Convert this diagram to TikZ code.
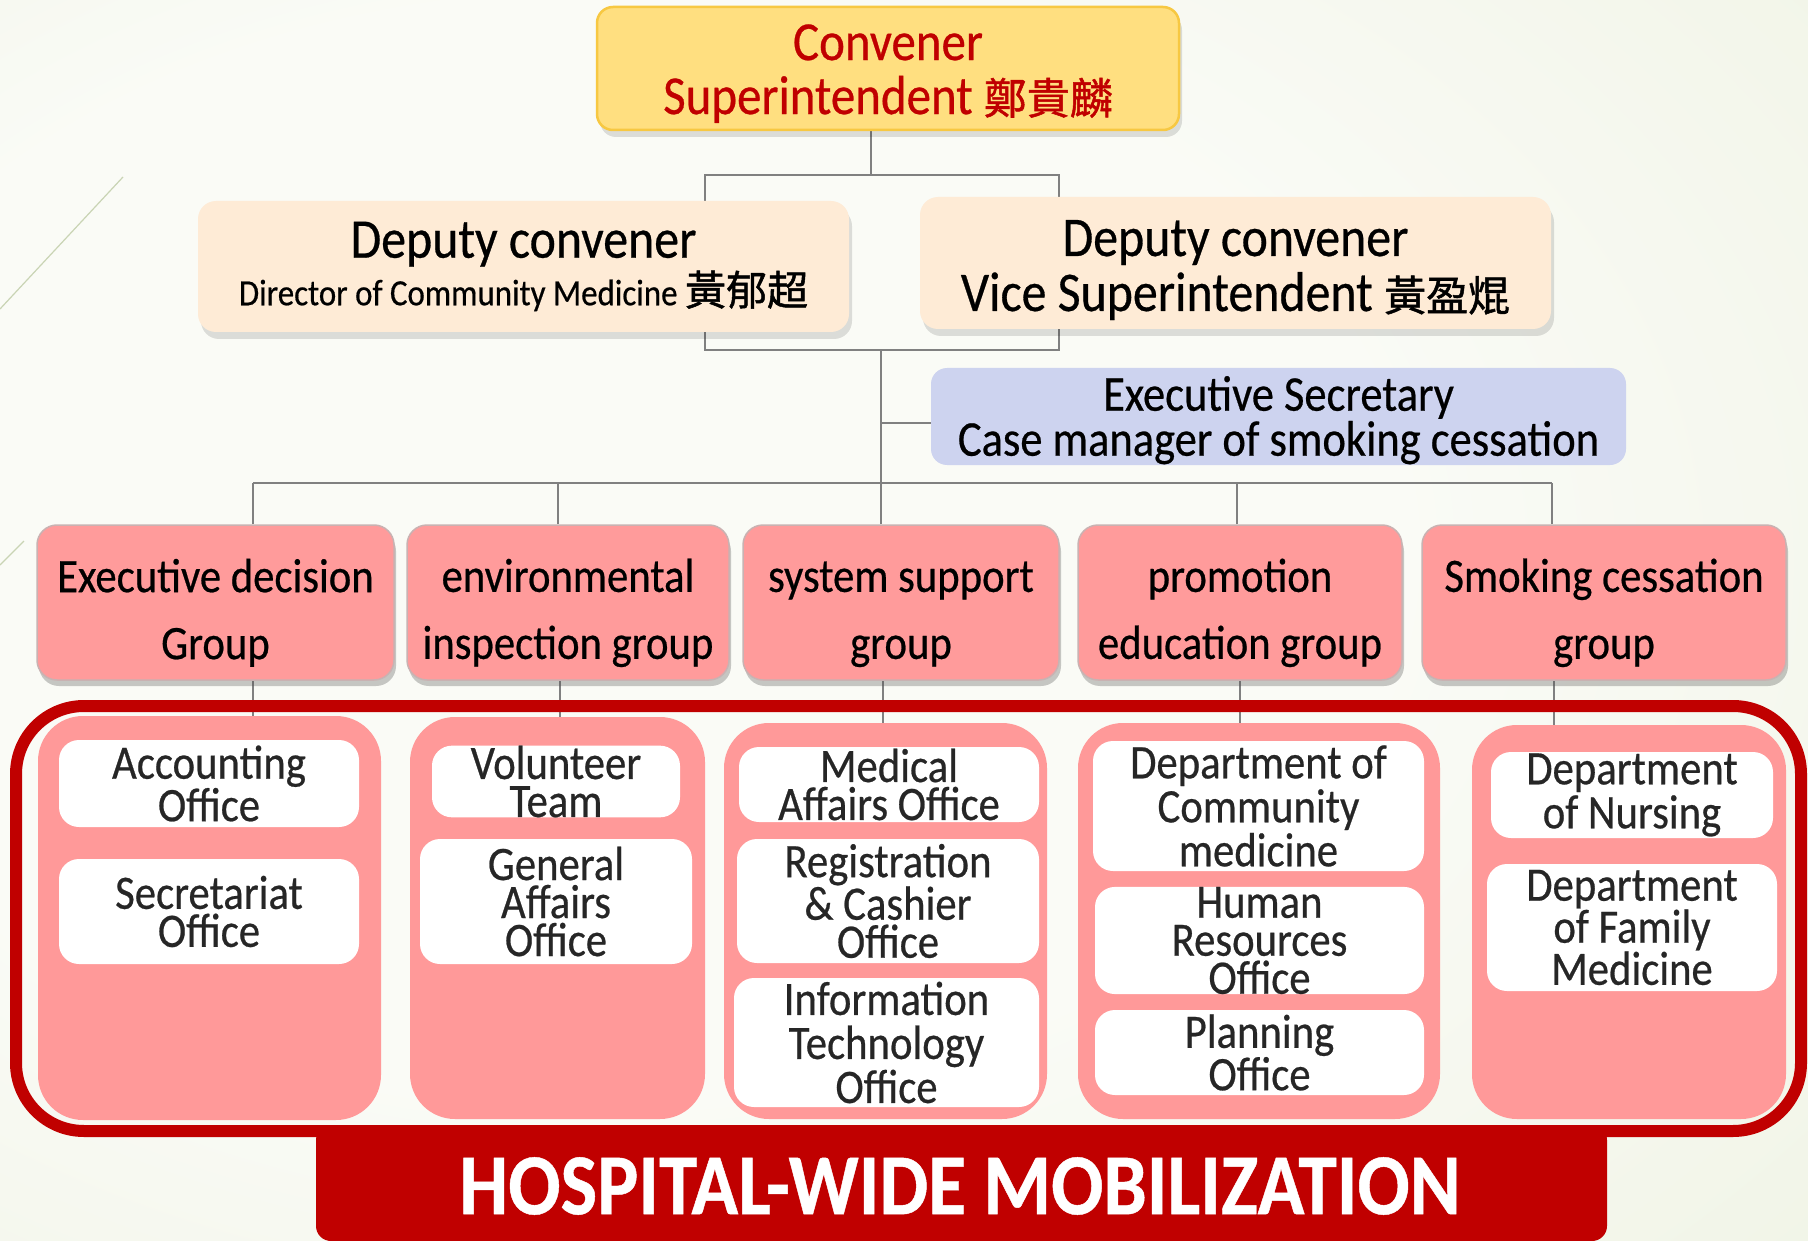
\documentclass[tikz,border=0pt]{standalone}
\usepackage{fontspec}
\setmainfont[FakeStretch=0.89, FakeBold=0.5]{Carlito}
\newfontfamily\cjk[FakeBold=1.2]{Noto Sans CJK TC}
\usetikzlibrary{shadows,calc}
\definecolor{convfill}{HTML}{FFDF80}
\definecolor{convborder}{HTML}{F7C842}
\definecolor{convred}{HTML}{C00000}
\definecolor{depfill}{HTML}{FEEBD6}
\definecolor{secfill}{HTML}{CDD3EF}
\definecolor{grpfill}{HTML}{FF9B9B}
\definecolor{grpborder}{HTML}{C9B2B2}
\definecolor{panfill}{HTML}{FF9999}
\definecolor{hred}{HTML}{C00000}
\definecolor{linegray}{HTML}{808080}
\definecolor{bgin}{HTML}{FAFBF6}
\definecolor{bgout}{HTML}{E1E9CD}
\definecolor{decoline}{HTML}{C9D4B4}
\pgfdeclareradialshading{bgshade}{\pgfpoint{-12bp}{4bp}}{color(0bp)=(bgin); color(22bp)=(bgin); color(75bp)=(bgout)}
\pgfdeclarelayer{bglayer}
\pgfdeclarelayer{connlayer}
\pgfsetlayers{bglayer,connlayer,main}
\newcommand\zhtxt[2]{{\fontsize{#1}{#1}\selectfont\cjk #2}}
\newcommand\toppad[1]{\rule{0pt}{#1}}
\tikzset{
  conn/.style={draw=linegray, line width=2.6pt},
  softshadow/.style={drop shadow={shadow xshift=3pt, shadow yshift=-7pt, opacity=0.12, fill=black}},
  convbox/.style={rectangle, rounded corners=16pt, fill=convfill, draw=convborder, line width=2.5pt,
     align=center, text=convred, inner sep=0pt, softshadow,
     font={\fontsize{55}{54}\selectfont}},
  depbox/.style={rectangle, rounded corners=18pt, fill=depfill, align=center, text=black,
     inner sep=0pt, softshadow},
  secbox/.style={rectangle, rounded corners=16pt, fill=secfill, align=center, text=black,
     inner sep=0pt, font={\fontsize{50}{45}\selectfont}},
  grpbox/.style={rectangle, rounded corners=20pt, fill=grpfill, draw=grpborder, line width=1.5pt,
     align=center, text=black, inner sep=0pt, minimum height=155pt,
     drop shadow={shadow xshift=2pt, shadow yshift=-6pt, opacity=0.3, fill=black!70},
     font={\fontsize{48}{67}\selectfont}},
  panel/.style={rectangle, rounded corners=45pt, fill=panfill, inner sep=0pt},
  wbox/.style={rectangle, rounded corners=20pt, fill=white, align=center, text=black!85,
     inner sep=0pt, font={\fontsize{48}{38}\selectfont}},
  frame/.style={rectangle, rounded corners=68pt, draw=hred, line width=12pt, inner sep=0pt},
  banner/.style={rectangle, rounded corners=15pt, fill=hred, text=white, inner sep=0pt},
  deco/.style={draw=decoline, line width=1.2pt}
}
\begin{document}
\begin{tikzpicture}[x=1pt,y=-1pt]
\useasboundingbox (0,0) rectangle (1808,1241);
\begin{pgfonlayer}{bglayer}
  \shade[shading=bgshade] (0,0) rectangle (1808,1241);
  \draw[deco] (0,309) -- (123,177);
  \draw[deco] (0,565) -- (24,541);
\end{pgfonlayer}

% frame and banner
\node[frame, minimum width=1785pt, minimum height=425pt] (outline) at (908.5,918.5) {};
\node[banner, minimum width=1291pt, minimum height=116pt] (ban) at (961.5,1183) {};
\node[text=white, font={\bfseries\fontsize{87}{87}\selectfont}] (bantext) at (960,1186) {HOSPITAL-WIDE MOBILIZATION};

% top
\node[convbox, minimum width=582pt, minimum height=123pt] (conv) at (888,68.5)
  {\toppad{46pt}Convener\\Superintendent \zhtxt{43}{鄭貴麟}};
\node[depbox, minimum width=651pt, minimum height=131pt] (dl) at (523.5,266.5)
  {{\fontsize{56}{50}\selectfont Deputy convener}\\[3pt]{\fontsize{37}{50}\selectfont Director of Community Medicine \zhtxt{41}{黃郁超}}};
\node[depbox, minimum width=631pt, minimum height=132pt, font={\fontsize{56}{55}\selectfont}] (dr) at (1235.5,263)
  {\toppad{50pt}Deputy convener\\Vice Superintendent \zhtxt{42}{黃盈焜}};
\node[secbox, minimum width=695pt, minimum height=97pt] (sec) at (1278.5,416.5)
  {\toppad{42pt}Executive Secretary\\Case manager of smoking cessation};

% groups
\node[grpbox, minimum width=357pt] (g1) at (215.5,602.5) {\toppad{54pt}Executive decision\\Group};
\node[grpbox, minimum width=322pt] (g2) at (568,602.5) {\toppad{54pt}environmental\\inspection group};
\node[grpbox, minimum width=316pt] (g3) at (901,602.5) {\toppad{54pt}system support\\group};
\node[grpbox, minimum width=324pt] (g4) at (1240,602.5) {\toppad{54pt}promotion\\education group};
\node[grpbox, minimum width=364pt] (g5) at (1604,602.5) {\toppad{54pt}Smoking cessation\\group};

% panels
\node[panel, minimum width=343pt, minimum height=404pt] (p1) at (209.5,918) {};
\node[panel, minimum width=295pt, minimum height=402pt] (p2) at (557.5,918) {};
\node[panel, minimum width=323pt, minimum height=396pt] (p3) at (885.5,921) {};
\node[panel, minimum width=362pt, minimum height=396pt] (p4) at (1259,921) {};
\node[panel, minimum width=314pt, minimum height=394pt] (p5) at (1629,922) {};

% white boxes
\node[wbox, minimum width=300pt, minimum height=87pt] (a1) at (209,783.5) {Accounting\\Office};
\node[wbox, minimum width=300pt, minimum height=105pt] (a2) at (209,911.5) {Secretariat\\Office};
\node[wbox, minimum width=248pt, minimum height=67pt] (b1) at (556,781.5) {Volunteer\\Team};
\node[wbox, minimum width=272pt, minimum height=125pt] (b2) at (556,901.5) {General\\Affairs\\Office};
\node[wbox, minimum width=300pt, minimum height=75pt] (c1) at (889,784.5) {Medical\\Affairs Office};
\node[wbox, minimum width=302pt, minimum height=124pt] (c2) at (888,901) {Registration\\\&\ Cashier\\Office};
\node[wbox, minimum width=305pt, minimum height=129pt, font={\fontsize{48}{44}\selectfont}] (c3) at (886.5,1042.5) {Information\\Technology\\Office};
\node[wbox, minimum width=331pt, minimum height=130pt, font={\fontsize{48}{44}\selectfont}] (d1) at (1258.5,806) {Department of\\Community\\medicine};
\node[wbox, minimum width=329pt, minimum height=101pt] (d2) at (1259.5,940.5) {Human\\Resources\\Office};
\node[wbox, minimum width=329pt, minimum height=85pt, font={\fontsize{48}{41}\selectfont}] (d3) at (1259.5,1052.5) {Planning\\Office};
\node[wbox, minimum width=282pt, minimum height=86pt, font={\fontsize{48}{44}\selectfont}] (e1) at (1632,795) {Department\\of Nursing};
\node[wbox, minimum width=290pt, minimum height=127pt] (e2) at (1632,927.5) {Department\\of Family\\Medicine};

% connectors
\coordinate (j1) at (871,175);
\coordinate (jl) at (705,175);
\coordinate (jr) at (1059,175);
\coordinate (kl) at (705,350);
\coordinate (kr) at (1059,350);
\coordinate (km) at (881,350);
\coordinate (sb) at (881,423);
\coordinate (h1) at (253,483);
\coordinate (h2) at (558,483);
\coordinate (h3) at (881,483);
\coordinate (h4) at (1237,483);
\coordinate (h5) at (1552,483);
\begin{pgfonlayer}{connlayer}
  \draw[conn] (conv.south -| j1) -- (j1);
  \draw[conn] (dl.north -| jl) -- (jl) -- (jr) -- (dr.north -| jr);
  \draw[conn] (dl.south -| kl) -- (kl) -- (kr) -- (dr.south -| kr);
  \draw[conn] (km) -- (h3);
  \draw[conn] (sb) -- (sec.west |- sb);
  \draw[conn] (h1) -- (h5);
  \draw[conn] (g1.north -| h1) -- (h1);
  \draw[conn] (g2.north -| h2) -- (h2);
  \draw[conn] (g3.north -| h3) -- (h3);
  \draw[conn] (g4.north -| h4) -- (h4);
  \draw[conn] (g5.north -| h5) -- (h5);
  \draw[conn] (g1.south -| h1) -- (p1.north -| h1);
  \draw[conn] ($(g2.south -| h2)+(2,0)$) -- ($(p2.north -| h2)+(2,0)$);
  \draw[conn] ($(g3.south -| h3)+(2,0)$) -- ($(p3.north -| h3)+(2,0)$);
  \draw[conn] ($(g4.south -| h4)+(3,0)$) -- ($(p4.north -| h4)+(3,0)$);
  \draw[conn] ($(g5.south -| h5)+(2,0)$) -- ($(p5.north -| h5)+(2,0)$);
\end{pgfonlayer}
\end{tikzpicture}
\end{document}
